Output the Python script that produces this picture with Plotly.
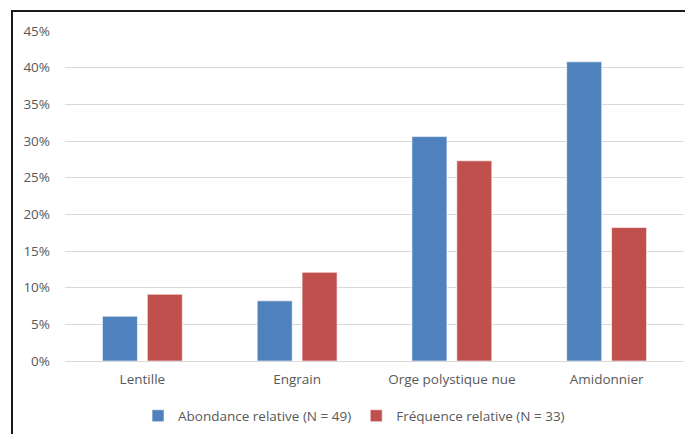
import plotly.graph_objects as go

categories = ['Lentille', 'Engrain', 'Orge polystique nue', 'Amidonnier']
abondance = [6.1, 8.2, 30.6, 40.8]   # N = 49
frequence = [9.1, 12.1, 27.3, 18.2]  # N = 33
tick_vals = [0, 5, 10, 15, 20, 25, 30, 35, 40, 45]
tick_text = [f'{v}%' for v in tick_vals]

grey = '#595959'

fig = go.Figure()
fig.add_trace(go.Bar(x=categories, y=abondance, name='Abondance relative (N = 49)',
                     marker=dict(color='#4F81BD', line=dict(color='rgba(255,255,255,0.6)', width=1))))
fig.add_trace(go.Bar(x=categories, y=frequence, name='Fréquence relative (N = 33)',
                     marker=dict(color='#C0504D', line=dict(color='rgba(255,255,255,0.6)', width=1))))

# page body adds ~8px offset, margins compensate for it
fig.update_layout(
    width=693, height=434,
    margin=dict(l=57, r=17, t=23, b=80),
    paper_bgcolor='white', plot_bgcolor='white',
    font=dict(family='Open Sans', size=13.5, color=grey),
    barmode='group', bargap=0.42, bargroupgap=0.22,
    showlegend=True,
    legend=dict(orientation='h', x=0.118, xanchor='left', y=-0.163, yanchor='middle',
                font=dict(size=13.5, color=grey), itemwidth=30, traceorder='normal'),
    # outer chart frame (only top and left edges are visible in the crop)
    shapes=[dict(type='rect', xref='paper', yref='paper',
                 x0=-0.0856, x1=1.2, y0=-0.5, y1=1.0604,
                 line=dict(color='#1a1a1a', width=2), layer='above')],
)
fig.update_yaxes(range=[0, 45], tickvals=tick_vals, ticktext=tick_text,
                 showgrid=True, gridcolor='#D9D9D9', gridwidth=1,
                 zeroline=True, zerolinecolor='#D9D9D9', zerolinewidth=1,
                 showline=False, ticklabelstandoff=14)
fig.update_xaxes(showline=False, showgrid=False, ticks='', ticklabelstandoff=8)

fig.write_html('out.html')
